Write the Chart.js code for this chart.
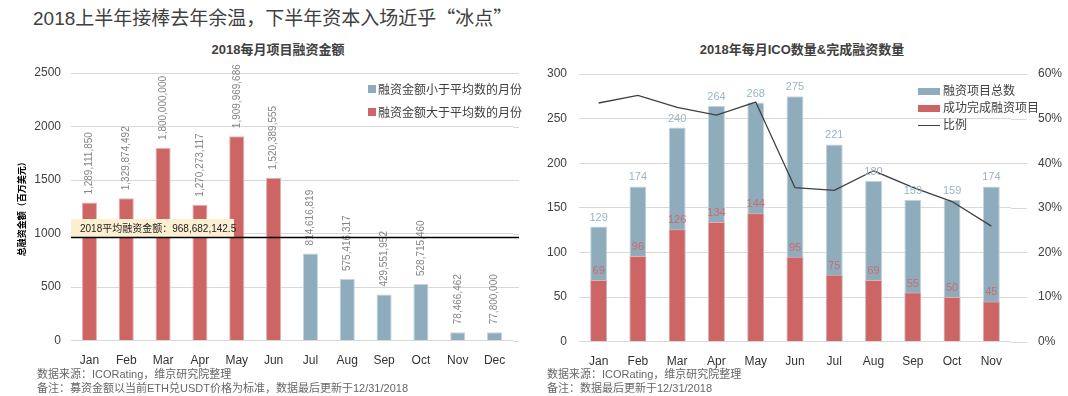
<!DOCTYPE html>
<html lang="zh">
<head>
<meta charset="UTF-8">
<title>2018 ICO</title>
<script src="https://cdn.jsdelivr.net/npm/chart.js"></script>
<style>
  body { margin: 0; background: #fff; width: 1068px; height: 396px; overflow: hidden; position: relative;
         font-family: "Liberation Sans", "Noto Sans CJK SC", sans-serif; color: #404040; }
  .abs { position: absolute; white-space: nowrap; }
  #mainTitle { left: 33px; top: 4px; font-size: 19px; line-height: 25px; font-family: "Noto Sans CJK SC", sans-serif; }
  #mainTitle span { font-family: "Liberation Sans", sans-serif; }
  .ctitle { font-size: 13px; font-weight: bold; line-height: 16px; transform: translateX(-50%); }
  .note { font-size: 11px; line-height: 14px; color: #666; }
  .leg { font-size: 12px; line-height: 14px; color: #404040; }
  .sw { position: absolute; }
  canvas { position: absolute; }
</style>
</head>
<body>
<div id="mainTitle" class="abs"><span>2018</span>上半年接棒去年余温，下半年资本入场近乎“冰点”</div>

<div class="abs ctitle" style="left:278px; top:42px;">2018每月项目融资金额</div>
<div class="abs ctitle" style="left:802px; top:42px;">2018年每月ICO数量&amp;完成融资数量</div>

<canvas id="fundChart" width="540" height="320" style="left:0; top:62px;"></canvas>
<canvas id="icoChart" width="532" height="321" style="left:536px; top:62px;"></canvas>

<!-- 左图图例 -->
<div class="sw" style="left:368px; top:85px; width:8px; height:8px; background:#8EACBC;"></div>
<div class="abs leg" style="left:378px; top:83px;">融资金额小于平均数的月份</div>
<div class="sw" style="left:368px; top:108px; width:8px; height:8px; background:#CD6565;"></div>
<div class="abs leg" style="left:378px; top:106px;">融资金额大于平均数的月份</div>

<!-- 右图图例 -->
<div class="sw" style="left:918px; top:88px; width:22px; height:7px; background:#8EACBC;"></div>
<div class="abs leg" style="left:943px; top:84px;">融资项目总数</div>
<div class="sw" style="left:918px; top:105px; width:22px; height:7px; background:#CD6565;"></div>
<div class="abs leg" style="left:943px; top:101px;">成功完成融资项目</div>
<div class="sw" style="left:918px; top:125px; width:22px; height:1px; background:#404040;"></div>
<div class="abs leg" style="left:943px; top:118px;">比例</div>

<div class="abs note" style="left:37px; top:367px;">数据来源：ICORating，维京研究院整理</div>
<div class="abs note" style="left:37px; top:381px;">备注：募资金额以当前ETH兑USDT价格为标准，数据最后更新于12/31/2018</div>
<div class="abs note" style="left:547px; top:367px;">数据来源：ICORating，维京研究院整理</div>
<div class="abs note" style="left:547px; top:381px;">备注：数据最后更新于12/31/2018</div>

<script>
// 数据
const months = ['Jan', 'Feb', 'Mar', 'Apr', 'May', 'Jun', 'Jul', 'Aug', 'Sep', 'Oct', 'Nov', 'Dec'];
const fundingUsd = [1289111850, 1329874492, 1800000000, 1270273117, 1909969686, 1520389555,
                    814616819, 575416317, 429551952, 528715460, 78466462, 77800000];
const avgFunding = 968682142.5;

const icoMonths = ['Jan', 'Feb', 'Mar', 'Apr', 'May', 'Jun', 'Jul', 'Aug', 'Sep', 'Oct', 'Nov'];
const icoTotal = [129, 174, 240, 264, 268, 275, 221, 180, 159, 159, 174];
const icoSuccess = [69, 96, 126, 134, 144, 95, 75, 69, 55, 50, 45];
const successRatio = [0.535, 0.552, 0.525, 0.508, 0.537, 0.345, 0.339, 0.383, 0.346, 0.314, 0.259];

const BLUE = '#8EACBC', RED = '#CD6565';

Chart.defaults.font.family = '"Liberation Sans", "Noto Sans CJK SC", sans-serif';
Chart.defaults.color = '#404040';

function fmt(n) {
    return String(n).replace(/\B(?=(\d{3})+(?!\d))/g, ',');
}

// 网格线向右多画一点
function gridExtend(ext) {
    return {
        id: 'gridExtend',
        beforeDatasetsDraw(chart) {
            const ys = chart.scales.y, a = chart.chartArea, ctx = chart.ctx;
            ctx.save();
            ctx.strokeStyle = '#D9D9D9';
            ctx.lineWidth = 1;
            ys.ticks.forEach(t => {
                const y = Math.round(ys.getPixelForValue(t.value)) + 0.5;
                ctx.beginPath();
                ctx.moveTo(a.right, y);
                ctx.lineTo(a.right + ext, y);
                ctx.stroke();
            });
            ctx.restore();
        }
    };
}

// 左图：竖排数值 + 平均线
const fundLabels = {
    id: 'fundLabels',
    afterDatasetsDraw(chart) {
        const ctx = chart.ctx, a = chart.chartArea;
        const meta = chart.getDatasetMeta(0);
        ctx.save();
        ctx.font = '10px "Liberation Sans", sans-serif';
        ctx.fillStyle = '#858585';
        ctx.textAlign = 'left';
        ctx.textBaseline = 'middle';
        meta.data.forEach((el, i) => {
            ctx.save();
            ctx.translate(el.x, el.y - 8);
            ctx.rotate(-Math.PI / 2);
            ctx.fillText(fmt(fundingUsd[i]), 0, 0);
            ctx.restore();
        });
        const y = Math.round(chart.scales.y.getPixelForValue(avgFunding / 1e6));
        ctx.fillStyle = '#FCEFD2';
        ctx.fillRect(a.left, y - 18, 163, 18);
        ctx.strokeStyle = '#000';
        ctx.lineWidth = 1.3;
        ctx.beginPath();
        ctx.moveTo(a.left, y + 0.5);
        ctx.lineTo(a.right + 6, y + 0.5);
        ctx.stroke();
        ctx.fillStyle = '#222';
        ctx.font = '10px "Liberation Sans", "Noto Sans CJK SC", sans-serif';
        ctx.fillText('2018平均融资金额：' + fmt(Math.floor(avgFunding)) + '.5', a.left + 9, y - 8);
        ctx.restore();
    }
};

new Chart(document.getElementById('fundChart'), {
    type: 'bar',
    data: {
        labels: months,
        datasets: [{
            data: fundingUsd.map(v => v / 1e6),
            backgroundColor: fundingUsd.map(v => v > avgFunding ? RED : BLUE),
            borderColor: fundingUsd.map(v => v > avgFunding ? '#E6AFAF' : '#C3D4DD'),
            borderWidth: 1,
            barPercentage: 0.41,
            categoryPercentage: 1
        }]
    },
    options: {
        responsive: false,
        animation: false,
        layout: { padding: { top: 11, right: 27, bottom: 1, left: 0 } },
        plugins: { legend: { display: false }, tooltip: { enabled: false } },
        scales: {
            x: {
                grid: { display: false, drawTicks: false },
                border: { display: false },
                ticks: { padding: 13, color: '#333', font: { size: 12 } }
            },
            y: {
                min: 0, max: 2500,
                ticks: { stepSize: 500, padding: 0, color: '#404040', font: { size: 12 }, callback: v => String(v) },
                grid: { color: '#D9D9D9', drawTicks: true, tickLength: 10, tickColor: 'rgba(0,0,0,0)' },
                border: { display: false },
                title: {
                    display: true, text: '总融资金额（百万美元）', color: '#000',
                    font: { size: 9, weight: 'bold', family: '"Noto Sans CJK SC", sans-serif' },
                    padding: { top: 16, bottom: 0 }
                },
                afterFit(scale) { scale.width = 71; }
            }
        }
    },
    plugins: [gridExtend(6), fundLabels]
});

// 右图：柱上数值
const icoLabels = {
    id: 'icoLabels',
    afterDatasetsDraw(chart) {
        const ctx = chart.ctx;
        ctx.save();
        ctx.font = '11px "Liberation Sans", sans-serif';
        ctx.textAlign = 'center';
        ctx.textBaseline = 'middle';
        [[0, icoTotal, '#9AB5C4'], [1, icoSuccess, '#D06A6A']].forEach(([di, vals, col]) => {
            ctx.fillStyle = col;
            chart.getDatasetMeta(di).data.forEach((el, i) => {
                ctx.fillText(String(vals[i]), el.x, el.y - 9);
            });
        });
        ctx.restore();
    }
};

new Chart(document.getElementById('icoChart'), {
    type: 'bar',
    data: {
        labels: icoMonths,
        datasets: [{
            label: '融资项目总数',
            data: icoTotal,
            backgroundColor: BLUE,
            borderColor: '#C3D4DD',
            borderWidth: 1,
            stack: 'a',
            order: 2,
            barPercentage: 0.43,
            categoryPercentage: 1
        }, {
            label: '成功完成融资项目',
            data: icoSuccess,
            backgroundColor: RED,
            borderColor: '#E6AFAF',
            borderWidth: 1,
            stack: 'a',
            order: 1,
            barPercentage: 0.43,
            categoryPercentage: 1
        }, {
            type: 'line',
            label: '比例',
            data: successRatio,
            yAxisID: 'y1',
            borderColor: '#404040',
            borderWidth: 1.3,
            pointRadius: 0,
            tension: 0,
            order: 0
        }]
    },
    options: {
        responsive: false,
        animation: false,
        layout: { padding: { top: 12, right: 0, bottom: 1, left: 0 } },
        plugins: { legend: { display: false }, tooltip: { enabled: false } },
        scales: {
            x: {
                stacked: true,
                grid: { display: false, drawTicks: false },
                border: { display: false },
                ticks: { padding: 13, color: '#333', font: { size: 12 } }
            },
            y: {
                stacked: false,
                min: 0, max: 300,
                ticks: { stepSize: 50, padding: 0, color: '#404040', font: { size: 12 } },
                grid: { color: '#D9D9D9', drawTicks: true, tickLength: 12, tickColor: 'rgba(0,0,0,0)' },
                border: { display: false },
                afterFit(scale) { scale.width = 43; }
            },
            y1: {
                position: 'right',
                min: 0, max: 0.6,
                ticks: {
                    stepSize: 0.1, padding: 0, color: '#404040', font: { size: 12 },
                    callback: v => Math.round(v * 100) + '%'
                },
                grid: { display: false, drawTicks: true, tickLength: 27 },
                border: { display: false },
                afterFit(scale) { scale.width = 57; }
            }
        }
    },
    plugins: [gridExtend(16), icoLabels]
});
</script>
</body>
</html>
